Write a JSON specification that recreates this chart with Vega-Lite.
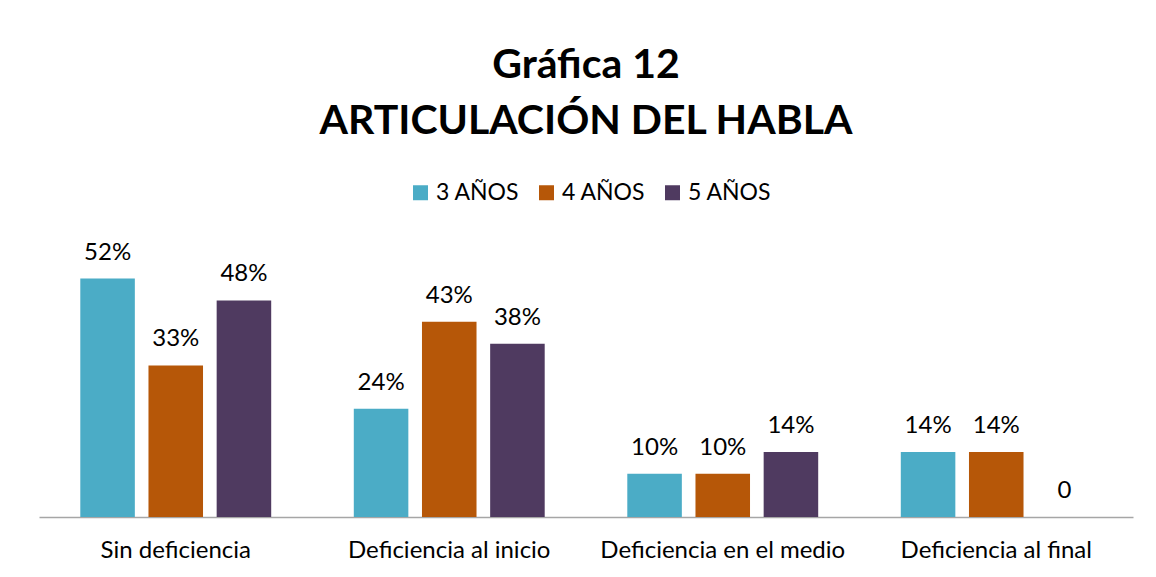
{
  "$schema": "https://vega.github.io/schema/vega-lite/v6.json",
  "width": 1094,
  "height": 273,
  "autosize": "none",
  "padding": {"left": 39, "top": 244, "right": 23, "bottom": 60},
  "background": "white",
  "title": {
    "text": ["Gráfica 12", "ARTICULACIÓN DEL HABLA"],
    "font": "Lato",
    "fontSize": 41,
    "fontWeight": "bold",
    "color": "#000000",
    "anchor": "middle",
    "frame": "group",
    "offset": 38,
    "lineHeight": 56
  },
  "data": {
    "values": [
      {"categoria": "Sin deficiencia", "edad": "3 AÑOS", "valor": 52.4, "etiqueta": "52%"},
      {"categoria": "Sin deficiencia", "edad": "4 AÑOS", "valor": 33.3, "etiqueta": "33%"},
      {"categoria": "Sin deficiencia", "edad": "5 AÑOS", "valor": 47.6, "etiqueta": "48%"},
      {"categoria": "Deficiencia al inicio", "edad": "3 AÑOS", "valor": 23.8, "etiqueta": "24%"},
      {"categoria": "Deficiencia al inicio", "edad": "4 AÑOS", "valor": 42.9, "etiqueta": "43%"},
      {"categoria": "Deficiencia al inicio", "edad": "5 AÑOS", "valor": 38.1, "etiqueta": "38%"},
      {"categoria": "Deficiencia en el medio", "edad": "3 AÑOS", "valor": 9.5, "etiqueta": "10%"},
      {"categoria": "Deficiencia en el medio", "edad": "4 AÑOS", "valor": 9.5, "etiqueta": "10%"},
      {"categoria": "Deficiencia en el medio", "edad": "5 AÑOS", "valor": 14.3, "etiqueta": "14%"},
      {"categoria": "Deficiencia al final", "edad": "3 AÑOS", "valor": 14.3, "etiqueta": "14%"},
      {"categoria": "Deficiencia al final", "edad": "4 AÑOS", "valor": 14.3, "etiqueta": "14%"},
      {"categoria": "Deficiencia al final", "edad": "5 AÑOS", "valor": 0, "etiqueta": "0"}
    ]
  },
  "encoding": {
    "x": {
      "field": "categoria",
      "type": "nominal",
      "sort": ["Sin deficiencia", "Deficiencia al inicio", "Deficiencia en el medio", "Deficiencia al final"],
      "scale": {"paddingInner": 0.302, "paddingOuter": 0.151},
      "axis": {
        "title": null,
        "labelAngle": 0,
        "ticks": false,
        "grid": false,
        "domainColor": "#A6A6A6",
        "domainWidth": 1.5,
        "labelFont": "Lato",
        "labelFontSize": 24,
        "labelColor": "#000000",
        "labelPadding": 21,
        "labelLimit": 400
      }
    },
    "xOffset": {
      "field": "edad",
      "type": "nominal",
      "sort": ["3 AÑOS", "4 AÑOS", "5 AÑOS"],
      "scale": {"paddingInner": 0.2, "paddingOuter": 0}
    },
    "y": {
      "field": "valor",
      "type": "quantitative",
      "scale": {"domain": [0, 60]},
      "axis": null
    }
  },
  "layer": [
    {
      "mark": {"type": "bar"},
      "encoding": {
        "color": {
          "field": "edad",
          "type": "nominal",
          "scale": {"domain": ["3 AÑOS", "4 AÑOS", "5 AÑOS"], "range": ["#4BACC6", "#B65708", "#4F3A60"]},
          "legend": {
            "title": null,
            "orient": "none",
            "legendX": 370,
            "legendY": -63,
            "direction": "horizontal",
            "symbolType": "square",
            "symbolSize": 225,
            "symbolStrokeWidth": 0,
            "labelFont": "Lato",
            "labelFontSize": 23,
            "labelColor": "#000000",
            "labelOffset": 4,
            "columnPadding": 15,
            "padding": 0
          }
        }
      }
    },
    {
      "mark": {"type": "text", "baseline": "alphabetic", "dy": -19, "font": "Lato", "fontSize": 24, "color": "#000000"},
      "encoding": {"text": {"field": "etiqueta"}}
    }
  ],
  "config": {"view": {"stroke": null}}
}
